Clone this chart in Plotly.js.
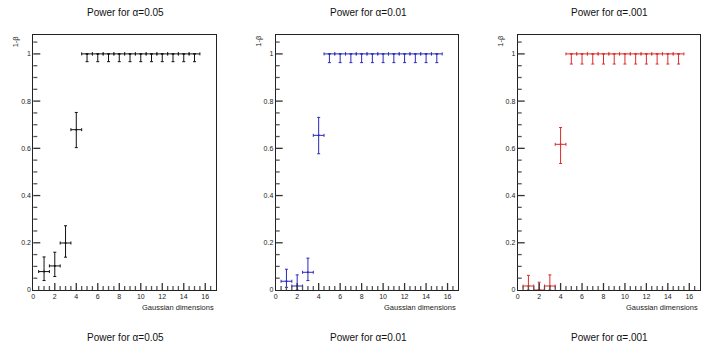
<!DOCTYPE html>
<html><head><meta charset="utf-8">
<script src="https://cdn.plot.ly/plotly-3.0.1.min.js"></script>
<style>
html,body{margin:0;padding:0;background:#fff}
#chart{width:716px;height:355px}
.js-plotly-plot .plotly path.ticks{shape-rendering:geometricPrecision !important}
</style>
</head><body><div id="chart"></div>
<script>
const dims = [1,2,3,4,5,6,7,8,9,10,11,12,13,14,15];
const xHalfWidth = [0.5,0.5,0.5,0.5,0.5,0.5,0.5,0.5,0.5,0.5,0.5,0.5,0.5,0.5,0.5];

const titles = ["Power for \u03b1=0.05", "Power for \u03b1=0.01", "Power for \u03b1=.001"];
const xTitle = "Gaussian dimensions";
const yTitle = "1-\u03b2";

const power05 = [0.078,0.102,0.199,0.679,1,1,1,1,1,1,1,1,1,1,1];
const errUp05 = [0.062,0.058,0.073,0.073,0,0,0,0,0,0,0,0,0,0,0];
const errDn05 = [0.038,0.045,0.060,0.076,0.033,0.033,0.033,0.033,0.033,0.033,0.033,0.033,0.033,0.033,0.033];

const power01 = [0.037,0.017,0.075,0.655,1,1,1,1,1,1,1,1,1,1,1];
const errUp01 = [0.051,0.047,0.060,0.076,0,0,0,0,0,0,0,0,0,0,0];
const errDn01 = [0.026,0.017,0.035,0.078,0.037,0.037,0.037,0.037,0.037,0.037,0.037,0.037,0.037,0.037,0.037];

const power001 = [0.017,0.0,0.017,0.617,1,1,1,1,1,1,1,1,1,1,1];
const errUp001 = [0.045,0.033,0.047,0.071,0,0,0,0,0,0,0,0,0,0,0];
const errDn001 = [0.017,0.0,0.017,0.081,0.043,0.043,0.043,0.043,0.043,0.043,0.043,0.043,0.043,0.043,0.043];

const series = [
  {y: power05, up: errUp05, dn: errDn05, color: '#111111'},
  {y: power01, up: errUp01, dn: errDn01, color: '#2a2ab8'},
  {y: power001, up: errUp001, dn: errDn001, color: '#dd2a2a'}
];

const W = 716, H = 355;
const frames = [[33.3,216],[275.7,458.3],[517.7,700]];
const yTop = 35, yBot = 290;
const font = 'Liberation Sans, Arial, Helvetica, sans-serif';

const traces = series.map((s,i)=>({
  type:'scatter', mode:'markers',
  x: dims, y: s.y,
  xaxis: 'x'+(i? i+1:''), yaxis: 'y'+(i? i+1:''),
  marker:{size:2, color:s.color},
  error_x:{type:'data', array:xHalfWidth, symmetric:true, color:s.color, thickness:1, width:1.5},
  error_y:{type:'data', symmetric:false, array:s.up, arrayminus:s.dn, color:s.color, thickness:1, width:1.5},
  showlegend:false, hoverinfo:'skip', cliponaxis:false
}));

const layout = {
  width: W, height: H,
  margin:{l:0,r:0,t:0,b:0},
  paper_bgcolor:'#fff', plot_bgcolor:'#fff',
  showlegend:false,
  annotations:[]
};

frames.forEach((f,i)=>{
  const sx = i? String(i+1):'';
  layout['xaxis'+sx] = {
    domain:[f[0]/W, f[1]/W], range:[0,17], anchor:'y'+sx,
    showgrid:false, zeroline:false, showline:true, mirror:true,
    linecolor:'#222', linewidth:1,
    ticks:'inside', ticklen:7, tickwidth:1.3, tickcolor:'#333',
    dtick:2, tick0:0,
    minor:{dtick:0.5, ticks:'inside', ticklen:4, tickcolor:'#555', tickwidth:1.3},
    tickfont:{family:font, size:7, color:'#222'}
  };
  layout['yaxis'+sx] = {
    domain:[(H-yBot)/H, (H-yTop)/H], range:[0,1.08], anchor:'x'+sx,
    showgrid:false, zeroline:false, showline:true, mirror:true,
    linecolor:'#222', linewidth:1,
    ticks:'inside', ticklen:7, tickwidth:1.3, tickcolor:'#333',
    dtick:0.2, tick0:0,
    minor:{dtick:0.05, ticks:'inside', ticklen:4, tickcolor:'#555', tickwidth:1.3},
    tickfont:{family:font, size:7, color:'#222'}
  };
  const cx = [125,368,609][i];
  layout.annotations.push({xref:'paper', yref:'paper', x:cx/W, y:(H-13)/H, text:titles[i],
    showarrow:false, xanchor:'center', yanchor:'middle', font:{family:font, size:10, color:'#111'}});
  layout.annotations.push({xref:'paper', yref:'paper', x:cx/W, y:(H-337)/H, text:titles[i],
    showarrow:false, xanchor:'center', yanchor:'middle', font:{family:font, size:10, color:'#111'}});
  layout.annotations.push({xref:'paper', yref:'paper', x:f[1]/W, y:(H-307)/H, text:xTitle,
    showarrow:false, xanchor:'right', yanchor:'middle', font:{family:font, size:7.5, color:'#222'}});
  layout.annotations.push({xref:'paper', yref:'paper', x:(f[0]-17)/W, y:(H-33)/H, text:yTitle,
    showarrow:false, xanchor:'center', yanchor:'top', textangle:-90, font:{family:font, size:7.5, color:'#222'}});
});

Plotly.newPlot('chart', traces, layout, {staticPlot:true, displayModeBar:false});
</script></body></html>
